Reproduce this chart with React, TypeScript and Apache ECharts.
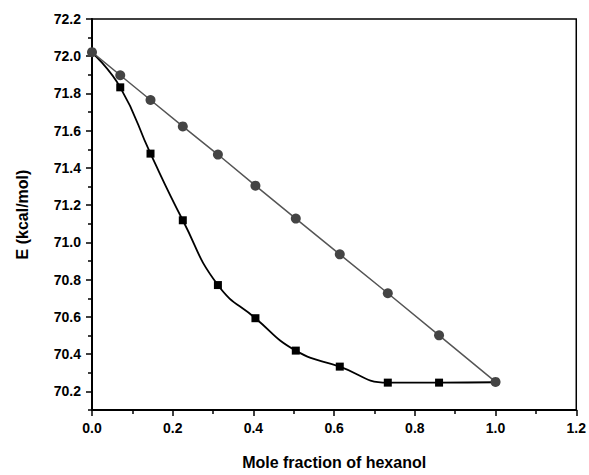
import React, { useEffect, useRef } from "react";
import * as echarts from "echarts";

const xValues = [0, 0.07, 0.145, 0.225, 0.312, 0.405, 0.505, 0.614, 0.733, 0.86, 1.0];
const squareValues = [72.02, 71.833, 71.477, 71.119, 70.771, 70.593, 70.419, 70.333, 70.247, 70.247, 70.249];
const squareMarkerShown = [false, true, true, true, true, true, true, true, true, true, false];
const circleValues = [72.022, 71.898, 71.765, 71.623, 71.472, 71.305, 71.128, 70.936, 70.727, 70.501, 70.251];
const yMajorTicks = [70.2, 70.4, 70.6, 70.8, 71.0, 71.2, 71.4, 71.6, 71.8, 72.0, 72.2];
const yMinorTicks = [70.1, 70.3, 70.5, 70.7, 70.9, 71.1, 71.3, 71.5, 71.7, 71.9, 72.1];

const FONT = "'Liberation Sans', Arial, Helvetica, sans-serif";

export default function App() {
  const ref = useRef<HTMLDivElement>(null);
  useEffect(() => {
    if (!ref.current) return;
    const chart = echarts.init(ref.current, null, { renderer: "svg" });
    const labelStyle = { color: "#000", fontFamily: FONT, fontWeight: "bold" as const, fontSize: 14 };
    chart.setOption({
      animation: false,
      backgroundColor: "#fff",
      grid: {
        left: 92,
        right: 12,
        top: 19,
        bottom: 62,
        show: true,
        borderColor: "#000",
        borderWidth: 1.5,
        backgroundColor: "transparent",
      },
      xAxis: {
        type: "value",
        min: 0,
        max: 1.2,
        interval: 0.2,
        name: "Mole fraction of hexanol",
        nameLocation: "middle",
        nameGap: 44,
        nameTextStyle: { ...labelStyle, fontSize: 16 },
        axisLine: { show: true, lineStyle: { color: "#000", width: 2 } },
        axisTick: { show: true, inside: false, length: 6, lineStyle: { color: "#000", width: 1.5 } },
        minorTick: { show: true, splitNumber: 2, length: 4, lineStyle: { color: "#000", width: 1.5 } },
        axisLabel: { ...labelStyle, margin: 11, formatter: (v: number) => v.toFixed(1) },
        splitLine: { show: false },
      },
      yAxis: [
        {
          type: "value",
          min: 70.1,
          max: 72.2,
          position: "left",
          name: "E (kcal/mol)",
          nameLocation: "middle",
          nameRotate: 90,
          nameGap: 62,
          nameTextStyle: { ...labelStyle, fontSize: 16 },
          axisLine: { show: true, lineStyle: { color: "#000", width: 2 } },
          axisTick: {
            show: true,
            inside: false,
            length: 6,
            customValues: yMajorTicks,
            lineStyle: { color: "#000", width: 1.5 },
          },
          axisLabel: {
            ...labelStyle,
            margin: 11,
            customValues: yMajorTicks,
            formatter: (v: number) => v.toFixed(1),
          },
          splitLine: { show: false },
        },
        {
          type: "value",
          min: 70.1,
          max: 72.2,
          position: "left",
          offset: 0,
          axisLine: { show: false },
          axisTick: {
            show: true,
            inside: false,
            length: 4,
            customValues: yMinorTicks,
            lineStyle: { color: "#000", width: 1.5 },
          },
          axisLabel: { show: false },
          splitLine: { show: false },
        },
      ],
      series: [
        {
          type: "line",
          yAxisIndex: 0,
          data: xValues.map((x, i) =>
            squareMarkerShown[i] ? [x, squareValues[i]] : { value: [x, squareValues[i]], symbol: "none" }
          ),
          smooth: 0.5,
          symbol: "rect",
          symbolSize: 8,
          itemStyle: { color: "#000" },
          lineStyle: { color: "#000", width: 1.8 },
          z: 2,
        },
        {
          type: "line",
          yAxisIndex: 0,
          data: xValues.map((x, i) => [x, circleValues[i]]),
          symbol: "circle",
          symbolSize: 10,
          itemStyle: { color: "#444" },
          lineStyle: { color: "#555", width: 1.5 },
          z: 3,
        },
      ],
    });
    return () => chart.dispose();
  }, []);
  return <div ref={ref} style={{ width: 589, height: 475, position: "absolute", left: 0, top: 0 }} />;
}
